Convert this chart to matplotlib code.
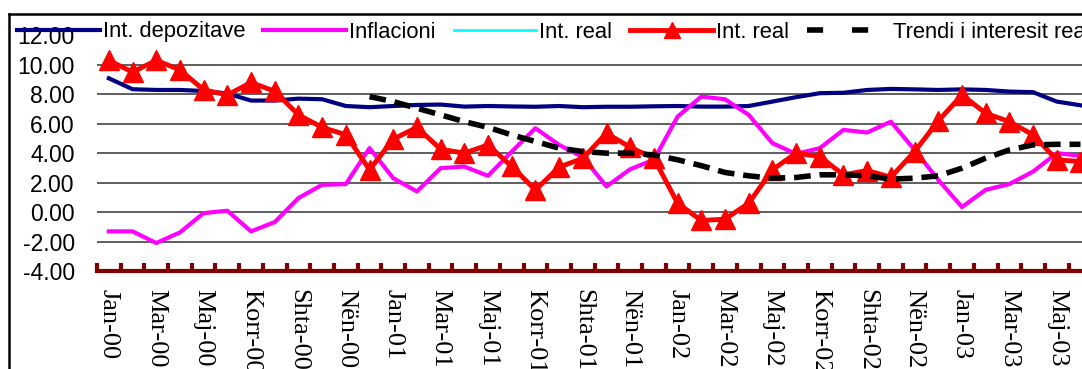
import numpy as np
import matplotlib
matplotlib.use('Agg')
import matplotlib.pyplot as plt
from matplotlib.lines import Line2D

# 月份标签（阿尔巴尼亚语），2000年1月 - 2003年6月
months = ['Jan', 'Shk', 'Mar', 'Pri', 'Maj', 'Qer', 'Korr', 'Gush', 'Shta', 'Tet', 'Nën', 'Dhj']
labels = [m + '-0' + str(y) for y in range(4) for m in months][:42]

# 存款利率
depo = [9.08, 8.34, 8.29, 8.29, 8.22, 8.05, 7.57, 7.57, 7.7, 7.66,
        7.2, 7.12, 7.2, 7.27, 7.3, 7.16, 7.2, 7.17, 7.15, 7.2,
        7.12, 7.15, 7.15, 7.18, 7.2, 7.16, 7.16, 7.2, 7.5, 7.8,
        8.07, 8.1, 8.29, 8.36, 8.33, 8.29, 8.33, 8.29, 8.18, 8.14,
        7.5, 7.25]
# 通胀
infl = [-1.31, -1.31, -2.1, -1.38, -0.07, 0.09, -1.31, -0.68, 0.95, 1.85,
        1.9, 4.34, 2.3, 1.4, 2.98, 3.09, 2.46, 4.1, 5.69, 4.56,
        3.73, 1.74, 2.91, 3.55, 6.48, 7.84, 7.66, 6.6, 4.68, 3.95,
        4.34, 5.58, 5.4, 6.14, 4.22, 2.19, 0.34, 1.51, 1.9, 2.75,
        4.0, 3.82]
# 实际利率
real = [10.3, 9.5, 10.3, 9.65, 8.3, 7.95, 8.8, 8.2, 6.6, 5.75,
        5.25, 2.87, 4.95, 5.75, 4.27, 4.0, 4.56, 3.1, 1.5, 3.05,
        3.65, 5.35, 4.4, 3.65, 0.6, -0.57, -0.48, 0.6, 2.87, 4.0,
        3.77, 2.53, 2.82, 2.37, 4.1, 6.19, 7.95, 6.71, 6.14, 5.24,
        3.55, 3.43]
# 实际利率趋势（从2000年12月开始）
trend = [np.nan] * 11 + [7.84, 7.5, 7.05, 6.6, 6.14, 5.75, 5.24, 4.79, 4.34, 4.11,
                         4.0, 4.0, 3.88, 3.55, 3.15, 2.69, 2.46, 2.3, 2.35, 2.53,
                         2.53, 2.46, 2.24, 2.3, 2.46, 2.98, 3.66, 4.22, 4.56, 4.6,
                         4.6]
yticks = [-4, -2, 0, 2, 4, 6, 8, 10, 12]

W, H = 1082, 369
fig = plt.figure(figsize=(W / 100, H / 100), dpi=100)
ax = fig.add_axes([97 / W, 98 / H, 1019 / W, 235.7 / H])

x = np.arange(len(labels))
l1, = ax.plot(x, depo, color='#000080', lw=3, zorder=3)
l2, = ax.plot(x, infl, color='#FF00FF', lw=3, zorder=3)
l3, = ax.plot(x, real, color='#00FFFF', lw=2, zorder=2)
l4, = ax.plot(x, real, color='#FF0000', lw=3.5, marker='^', ms=15, zorder=4)
l5, = ax.plot(x, trend, color='black', lw=4, ls=(0, (3, 1.6)), zorder=5)

# 网格线
for v in yticks[1:-1]:
    ax.axhline(v, color='#333333', lw=1.1, zorder=1)

ax.set_xlim(-0.5, 42.5)
ax.set_ylim(-4, 12)
for s in ['top', 'right', 'left']:
    ax.spines[s].set_visible(False)
ax.spines['bottom'].set_color('#800000')
ax.spines['bottom'].set_linewidth(3)

ax.set_xticks(np.arange(-0.5, 43, 1))
ax.set_xticklabels([])
ax.tick_params(axis='x', which='major', direction='in', length=6, width=3, color='#800000')
ax.set_xticks(x[::2], minor=True)
ax.set_xticklabels(labels[::2], minor=True, rotation=270,
                   fontfamily='Liberation Serif', fontsize=19)
ax.tick_params(axis='x', which='minor', length=0, pad=13)

ax.set_yticks(yticks)
ax.set_yticklabels(['%.2f' % v for v in yticks], fontfamily='Liberation Sans', fontsize=16.5)
ax.tick_params(axis='y', length=0, pad=16)

# 图例里的虚线间隔更大
trend_key = Line2D([], [], color='black', lw=4, ls=(0, (2.9, 5.2)))
fig.legend([l1, l2, l3, l4, trend_key],
           ['Int. depozitave', 'Inflacioni', 'Int. real', 'Int. real',
            'Trendi i interesit real'],
           loc='center left', bbox_to_anchor=(17 / W, 1 - 32 / H), ncol=5,
           frameon=False, borderpad=0, borderaxespad=0, handlelength=3.77,
           handletextpad=0.14, columnspacing=0.82, markerscale=0.75,
           prop={'family': 'Liberation Sans', 'size': 15.8})

# 外框
fig.add_artist(Line2D([8.5 / W, 8.5 / W], [0, 1 - 13.5 / H], color='black', lw=1.8))
fig.add_artist(Line2D([8.5 / W, 1], [1 - 13.5 / H, 1 - 13.5 / H], color='black', lw=1.8))

fig.savefig('out.png', dpi=100)
